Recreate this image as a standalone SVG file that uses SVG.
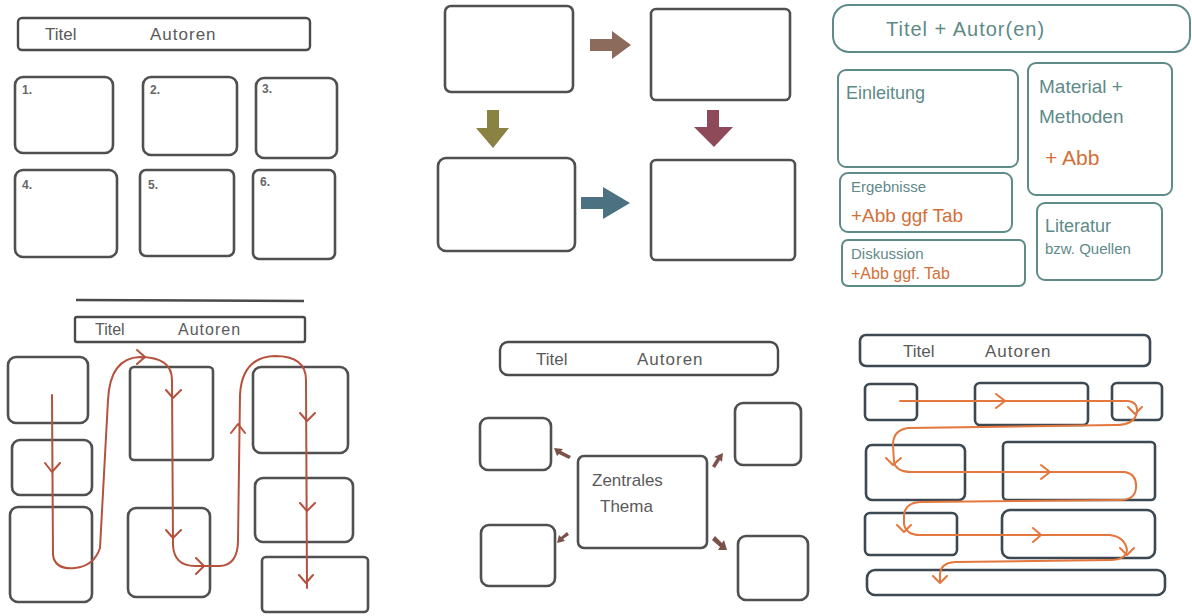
<svg xmlns="http://www.w3.org/2000/svg" width="1192" height="616" viewBox="0 0 1192 616">
<style>
.bx{fill:none;stroke:#505050;stroke-width:2.6;stroke-linecap:round;stroke-linejoin:round}
.tb{fill:none;stroke:#4a4a4a;stroke-width:2.4}
.tl{fill:none;stroke:#5e8a88;stroke-width:2}
.sl{fill:none;stroke:#3c4852;stroke-width:2.6;stroke-linecap:round}
.hw{font-family:"Liberation Sans",Arial,sans-serif;fill:#5a5a5a}
.tt{font-family:"Liberation Sans",Arial,sans-serif;fill:#5e8a88}
.or{font-family:"Liberation Sans",Arial,sans-serif;fill:#d2703a}
.num{font-family:"Liberation Sans",Arial,sans-serif;font-size:12px;font-weight:bold;fill:#666}
.rp{fill:none;stroke:#b5523e;stroke-width:2;stroke-linecap:round;stroke-linejoin:round}
.op{fill:none;stroke:#e3773e;stroke-width:2;stroke-linecap:round;stroke-linejoin:round}
</style>
<rect width="1192" height="616" fill="#ffffff"/>

<!-- Panel 1 -->
<g id="p1-title"><rect class="tb" x="18" y="18" width="292" height="32" rx="4"/><text class="hw" x="45" y="40" font-size="17">Titel</text><text class="hw" x="150" y="40" font-size="17" letter-spacing="1">Autoren</text></g>
<g id="p1-b1"><rect class="bx" x="15" y="77" width="98" height="76" rx="8"/><text class="num" x="22" y="94">1.</text></g>
<g id="p1-b2"><rect class="bx" x="143" y="77" width="94" height="78" rx="8"/><text class="num" x="150" y="94">2.</text></g>
<g id="p1-b3"><rect class="bx" x="256" y="78" width="81" height="80" rx="8"/><text class="num" x="262" y="93">3.</text></g>
<g id="p1-b4"><rect class="bx" x="15" y="170" width="102" height="87" rx="8"/><text class="num" x="22" y="189">4.</text></g>
<g id="p1-b5"><rect class="bx" x="140" y="170" width="94" height="86" rx="6"/><text class="num" x="148" y="189">5.</text></g>
<g id="p1-b6"><rect class="bx" x="253" y="170" width="82" height="89" rx="6"/><text class="num" x="260" y="186">6.</text></g>

<!-- Panel 2 -->
<g id="p2-a"><rect class="bx" x="445" y="6" width="128" height="86" rx="6"/></g>
<g id="p2-b"><rect class="bx" x="651" y="9" width="139" height="91" rx="5"/></g>
<g id="p2-c"><rect class="bx" x="438" y="158" width="137" height="93" rx="8"/></g>
<g id="p2-d"><rect class="bx" x="651" y="160" width="144" height="100" rx="5"/></g>
<g id="p2-arrows">
<path d="M590,39 L612,39 L612,31 L631,45 L612,59 L612,51 L590,51 Z" fill="#8c6a5c"/>
<path d="M487,110 L499,110 L499,128 L509,128 L493,148 L476,128 L487,128 Z" fill="#8a8242"/>
<path d="M707,110 L719,110 L719,127 L733,127 L714,147 L694,127 L707,127 Z" fill="#8e4a58"/>
<path d="M581,197 L603,197 L603,187 L630,203 L603,219 L603,209 L581,209 Z" fill="#4c7282"/>
</g>

<!-- Panel 3 -->
<g id="p3-title"><rect class="tl" x="833" y="5" width="357" height="47" rx="16"/><text class="tt" x="886" y="36" font-size="20" letter-spacing="1">Titel  +  Autor(en)</text></g>
<g id="p3-einl"><rect class="tl" x="838" y="70" width="180" height="97" rx="8"/><text class="tt" x="846" y="99" font-size="18">Einleitung</text></g>
<g id="p3-mat"><rect class="tl" x="1028" y="63" width="144" height="132" rx="8"/><text class="tt" x="1039" y="93" font-size="19">Material +</text><text class="tt" x="1039" y="123" font-size="19">Methoden</text><text class="or" x="1045" y="165" font-size="21">+ Abb</text></g>
<g id="p3-erg"><rect class="tl" x="840" y="173" width="172" height="59" rx="8"/><text class="tt" x="851" y="192" font-size="15">Ergebnisse</text><text class="or" x="851" y="222" font-size="19">+Abb  ggf  Tab</text></g>
<g id="p3-disk"><rect class="tl" x="842" y="240" width="183" height="46" rx="6"/><text class="tt" x="851" y="259" font-size="15">Diskussion</text><text class="or" x="851" y="279" font-size="16">+Abb ggf. Tab</text></g>
<g id="p3-lit"><rect class="tl" x="1037" y="203" width="125" height="77" rx="8"/><text class="tt" x="1045" y="232" font-size="18">Literatur</text><text class="tt" x="1045" y="254" font-size="15">bzw. Quellen</text></g>

<!-- Panel 4 -->
<g id="p4-title"><path class="tb" d="M76,300 L304,301"/><rect class="tb" x="75" y="317" width="230" height="25" rx="2"/><text class="hw" x="95" y="335" font-size="16">Titel</text><text class="hw" x="178" y="335" font-size="16" letter-spacing="1">Autoren</text></g>
<g id="p4-boxes">
<rect class="bx" x="8" y="357" width="80" height="66" rx="8"/>
<rect class="bx" x="12" y="440" width="80" height="55" rx="8"/>
<rect class="bx" x="10" y="507" width="82" height="95" rx="8"/>
<rect class="bx" x="130" y="367" width="83" height="93" rx="4"/>
<rect class="bx" x="128" y="508" width="82" height="89" rx="8"/>
<rect class="bx" x="253" y="367" width="95" height="86" rx="8"/>
<rect class="bx" x="255" y="478" width="98" height="64" rx="8"/>
<rect class="bx" x="262" y="557" width="106" height="55" rx="4"/>
</g>
<g id="p4-path">
<path class="rp" d="M52,395 L53,555 Q55,570 75,568 Q94,566 100,548 L108,400 Q110,358 140,357 Q172,357 172,380 L173,545 Q174,566 195,566 L220,566 Q238,565 238,540 L240,395 Q242,357 275,356 Q306,356 306,380 L307,588"/>
<path class="rp" d="M45,463 L52,472 L60,463 M166,390 L173,398 L181,390 M166,530 L173,538 L181,530 M196,558 L204,566 L196,574 M231,433 L238,424 L245,433 M300,413 L307,421 L315,413 M300,503 L307,511 L315,503 M299,575 L306,583 L313,575 M137,350 L145,357 L137,364"/>
</g>

<!-- Panel 5 -->
<g id="p5-title"><rect class="tb" x="500" y="342" width="278" height="33" rx="8"/><text class="hw" x="536" y="365" font-size="17">Titel</text><text class="hw" x="637" y="365" font-size="17" letter-spacing="1">Autoren</text></g>
<g id="p5-center"><rect class="bx" x="578" y="456" width="129" height="92" rx="6"/><text class="hw" x="592" y="486" font-size="17">Zentrales</text><text class="hw" x="600" y="512" font-size="17">Thema</text></g>
<g id="p5-lt"><rect class="bx" x="480" y="418" width="71" height="52" rx="8"/></g>
<g id="p5-lb"><rect class="bx" x="481" y="525" width="74" height="61" rx="8"/></g>
<g id="p5-rt"><rect class="bx" x="735" y="403" width="66" height="62" rx="8"/></g>
<g id="p5-rb"><rect class="bx" x="738" y="536" width="70" height="64" rx="8"/></g>
<g id="p5-arrows" fill="#7a5248">
<path d="M554,448 L563,449 L561,451 L571,456 L569,459 L559,454 L557,456 Z"/>
<path d="M723,453 L722,462 L720,460 L715,468 L712,466 L717,458 L714,457 Z"/>
<path d="M557,543 L559,535 L561,537 L567,532 L569,535 L563,539 L565,541 Z"/>
<path d="M727,550 L718,550 L720,547 L712,540 L715,536 L722,543 L724,540 Z"/>
</g>

<!-- Panel 6 -->
<g id="p6-title"><rect class="sl" x="860" y="335" width="290" height="31" rx="6"/><text class="hw" x="903" y="357" font-size="17">Titel</text><text class="hw" x="985" y="357" font-size="17" letter-spacing="1">Autoren</text></g>
<g id="p6-boxes">
<rect class="sl" x="865" y="384" width="52" height="36" rx="5"/>
<rect class="sl" x="975" y="383" width="113" height="42" rx="5"/>
<rect class="sl" x="1112" y="383" width="50" height="37" rx="5"/>
<rect class="sl" x="866" y="445" width="99" height="55" rx="6"/>
<rect class="sl" x="1003" y="442" width="152" height="58" rx="4"/>
<rect class="sl" x="865" y="513" width="92" height="42" rx="5"/>
<rect class="sl" x="1002" y="510" width="153" height="48" rx="8"/>
<rect class="sl" x="867" y="570" width="298" height="25" rx="8"/>
</g>
<g id="p6-path">
<path class="op" d="M900,401 L1128,401 Q1138,402 1137,412 Q1135,425 1115,425 L908,428 Q893,430 893,445 L894,462 Q896,472 912,472 L1125,472 Q1137,474 1136,488 Q1135,500 1120,500 L920,502 Q905,503 904,515 L904,524 Q906,535 920,535 L1110,535 Q1125,537 1127,550 Q1126,560 1110,560 L955,562 Q940,563 940,575 L940,582"/>
<path class="op" d="M996,394 L1005,401 L996,408 M886,458 L893,465 L901,458 M1041,465 L1050,472 L1041,479 M897,525 L904,532 L911,525 M1033,528 L1041,535 L1033,542 M1120,548 L1127,555 L1134,548 M933,576 L940,583 L947,576 M1128,407 L1135,414 L1142,407"/>
</g>
</svg>
